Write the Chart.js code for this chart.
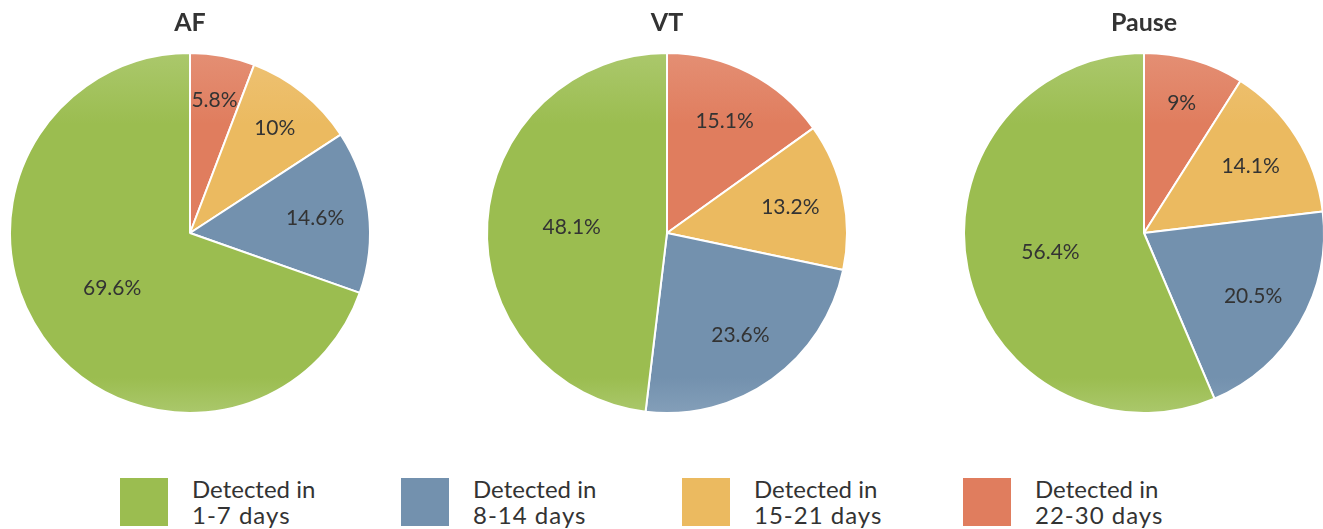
<!DOCTYPE html>
<html>
<head>
<meta charset="utf-8">
<script src="https://cdn.jsdelivr.net/npm/chart.js@4.4.1/dist/chart.umd.min.js"></script>
<style>
  html, body { margin: 0; padding: 0; background: #fff; overflow: hidden; }
  body { width: 1323px; height: 529px; position: relative; font-family: Lato, sans-serif; color: #333; }
  .pie { position: absolute; top: 0; width: 380px; height: 414px; }
  #legend { position: absolute; left: 120px; top: 478px; display: flex; }
  #legend .item { width: 281px; display: flex; align-items: flex-start; }
  #legend .box { width: 48px; height: 48px; flex: none; }
  #legend .txt { margin-left: 24px; font-size: 24px; line-height: 26px; margin-top: -2px; white-space: nowrap; }
  #legend .txt span { letter-spacing: 1px; }
</style>
</head>
<body>
<div class="pie" style="left:0px"><canvas id="afChart"></canvas></div>
<div class="pie" style="left:477px"><canvas id="vtChart"></canvas></div>
<div class="pie" style="left:954px"><canvas id="pauseChart"></canvas></div>
<div id="legend"></div>

<script>
/* ─── data (legend order) ─────────────────────────────── */
const categories = [
  ['Detected in', '1-7 days'],
  ['Detected in', '8-14 days'],
  ['Detected in', '15-21 days'],
  ['Detected in', '22-30 days']
];
const afValues    = [69.6, 14.6, 10, 5.8];
const vtValues    = [48.1, 23.6, 13.2, 15.1];
const pauseValues = [56.4, 20.5, 14.1, 9];

const baseColors  = ['#9bbd50', '#7391ae', '#ebba60', '#e07d5e'];
const lightColors = ['#abc86c', '#849fb9', '#eec274', '#e48f74'];

/* ─── legend ─────────────────────────────────────────── */
const legendEl = document.getElementById('legend');
categories.forEach((lines, i) => {
  const item = document.createElement('div');
  item.className = 'item';
  item.innerHTML = `<div class="box" style="background:${baseColors[i]}"></div>` +
                   `<div class="txt">${lines[0]}<br><span>${lines[1]}</span></div>`;
  legendEl.appendChild(item);
});

/* ─── percent labels inside slices ───────────────────── */
const sliceLabels = {
  id: 'sliceLabels',
  afterDatasetsDraw(chart) {
    const ctx = chart.ctx;
    const meta = chart.getDatasetMeta(0);
    const vals = chart.data.datasets[0].data;
    ctx.save();
    ctx.font = '21px Lato, sans-serif';
    ctx.fillStyle = '#333';
    ctx.textAlign = 'center';
    ctx.textBaseline = 'middle';
    meta.data.forEach((arc, i) => {
      const p = arc.getProps(['x', 'y', 'startAngle', 'endAngle', 'outerRadius'], true);
      const mid = (p.startAngle + p.endAngle) / 2;
      const f = vals[i] >= 40 ? 0.53 : (vals[i] < 12 ? 0.75 : 0.7);
      ctx.fillText(vals[i] + '%', p.x + Math.cos(mid) * p.outerRadius * f,
                                  p.y + Math.sin(mid) * p.outerRadius * f);
    });
    ctx.restore();
  }
};

/* pie runs clockwise from top: 22-30, 15-21, 8-14, 1-7 */
const order = [3, 2, 1, 0];

function shade(c) {
  const i = order[c.dataIndex];
  const area = c.chart.chartArea;
  if (!area) return baseColors[i];
  const g = c.chart.ctx.createLinearGradient(0, area.top, 0, area.bottom);
  g.addColorStop(0, lightColors[i]);
  g.addColorStop(0.2, baseColors[i]);
  g.addColorStop(0.9, baseColors[i]);
  g.addColorStop(1, lightColors[i]);
  return g;
}

function makePie(id, title, values) {
  new Chart(document.getElementById(id), {
    type: 'pie',
    data: {
      labels: order.map(i => categories[i].join(' ')),
      datasets: [{
        data: order.map(i => values[i]),
        backgroundColor: shade,
        borderColor: '#fff',
        borderWidth: 2
      }]
    },
    options: {
      responsive: true,
      maintainAspectRatio: false,
      animation: false,
      layout: { padding: 0 },
      plugins: {
        legend: { display: false },
        tooltip: { enabled: false },
        title: {
          display: true,
          text: title,
          color: '#333',
          font: { family: 'Lato, sans-serif', size: 25, weight: 'bold', lineHeight: 1.2 },
          padding: { top: 8, bottom: 14 }
        }
      }
    },
    plugins: [sliceLabels]
  });
}

makePie('afChart', 'AF', afValues);
makePie('vtChart', 'VT', vtValues);
makePie('pauseChart', 'Pause', pauseValues);
</script>
</body>
</html>
